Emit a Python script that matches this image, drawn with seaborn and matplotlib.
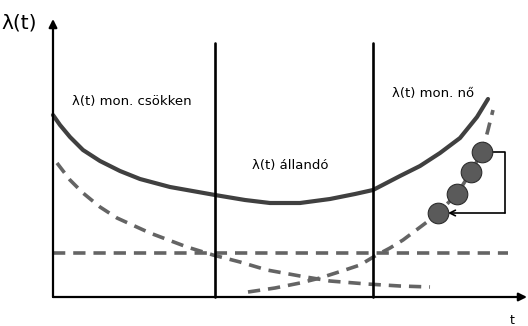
import matplotlib
matplotlib.use("Agg")
import matplotlib.pyplot as plt
import pandas as pd
import seaborn as sns

# values; t to the right, lambda upward (origin at the axes corner)
SOLID_T = [0, 7, 17, 30, 47, 67, 87, 117, 162, 192, 217, 247, 277, 302, 320, 347, 367, 387, 407, 424, 435]
SOLID_L = [182, 172, 160, 147, 136, 126, 118, 110, 102, 97, 94, 94, 98, 103, 107, 121, 131, 144, 159, 180, 198]

EARLY_T = [4, 17, 30, 47, 64, 97, 134, 160, 187, 214, 247, 277, 314, 347, 377]
EARLY_L = [134, 117, 104, 90, 79, 64, 50, 42, 35, 27, 21, 16, 13, 11, 10]

WEAR_T = [195, 222, 247, 267, 292, 307, 322, 337, 350, 374, 385, 404, 418, 429, 435, 440]
WEAR_L = [5, 9, 14, 19, 27, 32, 41, 49, 57, 75, 84, 103, 125, 145, 167, 187]

CONST_T = [0, 455]
CONST_L = [44, 44]

BOUNDARIES = [162, 320]
BOUNDARY_TOP = 254

DOTS_T = [385, 404, 418, 429]
DOTS_L = [84, 103, 125, 145]

LABELS = ["λ(t) mon. csökken", "λ(t) állandó", "λ(t) mon. nő"]

sns.set_theme(style="white")
plt.rcParams["font.family"] = ["DejaVu Sans"]

fig, ax = plt.subplots(figsize=(5.28, 3.26), dpi=100)
fig.subplots_adjust(left=0, right=1, bottom=0, top=1)
ax.set_xlim(-53, 475)
ax.set_ylim(-29, 297)
ax.axis("off")

grey = "#646464"
dash = (3.4, 2.2)

sns.lineplot(x=SOLID_T, y=SOLID_L, color="#404040", lw=3.0, estimator=None, ax=ax)
for tt, ll in [(EARLY_T, EARLY_L), (WEAR_T, WEAR_L), (CONST_T, CONST_L)]:
    df = pd.DataFrame({"t": tt, "l": ll})
    ax.plot(df["t"], df["l"], color=grey, lw=2.6, linestyle=(0, dash), solid_capstyle="butt")

for b in BOUNDARIES:
    ax.plot([b, b], [0, BOUNDARY_TOP], color="black", lw=1.9)

# axes with arrow heads
ax.annotate("", xy=(474, 0), xytext=(0, 0),
            arrowprops=dict(arrowstyle="-|>", color="black", lw=1.6, mutation_scale=12, shrinkA=0, shrinkB=0))
ax.annotate("", xy=(0, 278), xytext=(0, 0),
            arrowprops=dict(arrowstyle="-|>", color="black", lw=1.6, mutation_scale=12, shrinkA=0, shrinkB=0))

sns.scatterplot(x=DOTS_T, y=DOTS_L, s=220, color="#5a5a5a", edgecolor="#2e2e2e", linewidth=0.8, zorder=5, ax=ax)

# bracket arrow from top dot back to bottom dot
ax.plot([DOTS_T[-1] + 8, 452, 452], [DOTS_L[-1], DOTS_L[-1], DOTS_L[0]], color="black", lw=1.2)
ax.annotate("", xy=(DOTS_T[0] + 10, DOTS_L[0]), xytext=(452, DOTS_L[0]),
            arrowprops=dict(arrowstyle="->", color="black", lw=1.2, mutation_scale=10, shrinkA=0, shrinkB=0))

ax.text(-34, 274, "λ(t)", fontsize=14.5, ha="center", va="center", color="black")
ax.text(459, -23, "t", fontsize=9, ha="center", va="center", color="black")
ax.text(19, 196, LABELS[0], fontsize=9.5, ha="left", va="center", color="black")
ax.text(237, 132, LABELS[1], fontsize=9.5, ha="center", va="center", color="black")
ax.text(339, 203, LABELS[2], fontsize=9.5, ha="left", va="center", color="black")

fig.savefig("out.png", dpi=100)
